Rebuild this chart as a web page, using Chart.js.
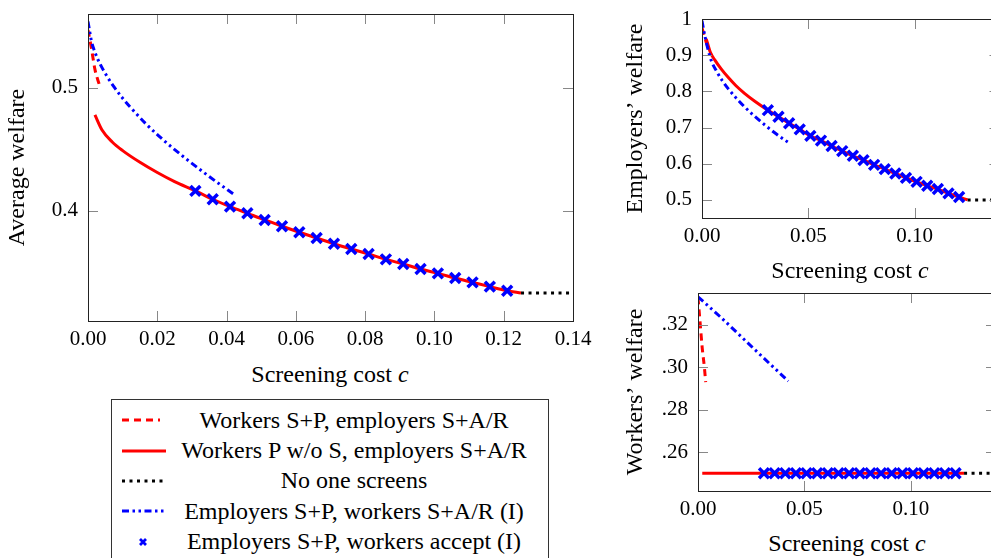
<!DOCTYPE html>
<html>
<head>
<meta charset="utf-8">
<script src="https://cdn.jsdelivr.net/npm/chart.js@4.4.1/dist/chart.umd.min.js"></script>
<style>
  body { margin: 0; background: #fff; }
  #page { position: relative; width: 991px; height: 558px; overflow: hidden; font-family: "Liberation Serif", serif; color: #000; }
  canvas { position: absolute; }
  .xtitle { position: absolute; font-size: 24px; line-height: 28px; text-align: center; white-space: nowrap; }
  #legend { position: absolute; left: 111px; top: 399px; width: 438px; height: 170px; border: 1px solid #333; padding-top: 5px; box-sizing: border-box; }
  .row { display: flex; align-items: center; height: 30.4px; }
  .row svg { margin-left: 8px; width: 48px; height: 14px; flex: none; }
  .row span { width: 372px; text-align: center; font-size: 24px; white-space: nowrap; }
</style>
</head>
<body>
<div id="page">
  <canvas id="avgChart" width="600" height="360" style="left:0;top:0"></canvas>
  <canvas id="empChart" width="400" height="250" style="left:610px;top:0"></canvas>
  <canvas id="wrkChart" width="400" height="240" style="left:610px;top:280px"></canvas>
  <div class="xtitle" style="left:180px;width:300px;top:360px">Screening cost <i>c</i></div>
  <div class="xtitle" style="left:700px;width:300px;top:256px">Screening cost <i>c</i></div>
  <div class="xtitle" style="left:697px;width:300px;top:529px">Screening cost <i>c</i></div>
  <div id="legend"></div>
</div>
<script>
// series names (legend order)
var names = [
  "Workers S+P, employers S+A/R",
  "Workers P w/o S, employers S+A/R",
  "No one screens",
  "Employers S+P, workers S+A/R (I)",
  "Employers S+P, workers accept (I)"
];

// red dashed: workers S+P, employers S+A/R
var cRedDash = [0, 0.001, 0.002, 0.003, 0.0036];
var avgRedDash = [0.547, 0.532, 0.515, 0.505, 0.500];
var empRedDash = [0.975, 0.955, 0.935, 0.92, 0.912];
var wrkRedDash = [0.333, 0.321, 0.309, 0.300, 0.293];

// red solid, first part (before the crosses start)
var cRedAvgHead = [0.002, 0.004, 0.007, 0.01, 0.015, 0.02, 0.025];
var avgRedHead = [0.478, 0.466, 0.456, 0.449, 0.4395, 0.4312, 0.4238];
var cRedEmpHead = [0.002, 0.004, 0.006, 0.009, 0.0124, 0.016, 0.02, 0.025];
var empRedHead = [0.945, 0.907, 0.887, 0.862, 0.838, 0.8155, 0.7945, 0.772];
var cRedEnd = 0.125;
var avgRedEnd = 0.3333;
var empRedEnd = 0.5;
var cRedWrk = [0.002, 0.125];
var wrkRed = [0.25, 0.25];

// crosses: employers S+P, workers accept
var cCross = [0.031, 0.036, 0.041, 0.046, 0.051, 0.056, 0.061, 0.066, 0.071, 0.076,
              0.081, 0.086, 0.091, 0.096, 0.101, 0.106, 0.111, 0.116, 0.121];
var avgCross = [0.4163, 0.4095, 0.4035, 0.3981, 0.3927, 0.3876, 0.3827, 0.3780, 0.3734, 0.3691,
                0.3650, 0.3607, 0.3569, 0.3528, 0.3493, 0.3455, 0.3420, 0.3385, 0.3352];
var empCross = [0.748, 0.730, 0.712, 0.695, 0.677, 0.664, 0.649, 0.635, 0.622, 0.610,
                0.597, 0.585, 0.573, 0.561, 0.550, 0.539, 0.530, 0.518, 0.508];
var wrkCross = [0.25, 0.25, 0.25, 0.25, 0.25, 0.25, 0.25, 0.25, 0.25, 0.25,
                0.25, 0.25, 0.25, 0.25, 0.25, 0.25, 0.25, 0.25, 0.25];

// black dotted: no one screens
var cNone = [0.125, 0.14];
var avgNone = [0.3333, 0.3333];
var empNone = [0.5, 0.5];
var wrkNone = [0.25, 0.25];

// blue dash-dot: employers S+P, workers S+A/R
var cBlueAvg = [0, 0.001, 0.002, 0.0035, 0.0055, 0.0073, 0.01, 0.0121, 0.0169, 0.022, 0.0266, 0.0323, 0.037, 0.0419];
var avgBlue = [0.554, 0.538, 0.529, 0.5193, 0.5093, 0.5016, 0.4916, 0.4847, 0.4703, 0.457, 0.4462, 0.4337, 0.4238, 0.414];
var cBlueEmp = [0, 0.0007, 0.0014, 0.003, 0.0045, 0.0069, 0.0095, 0.0124, 0.016, 0.0202, 0.025, 0.0296, 0.035, 0.0413];
var empBlue = [0.995, 0.972, 0.952, 0.912, 0.883, 0.855, 0.83, 0.807, 0.782, 0.756, 0.73, 0.707, 0.682, 0.656];
var cBlueWrk = [0, 0.0103, 0.026, 0.0424];
var wrkBlue = [0.3333, 0.324, 0.309, 0.2935];

// tick labels
var mainXTicks = [0, 0.02, 0.04, 0.06, 0.08, 0.10, 0.12, 0.14];
var mainYTicks = [0.4, 0.5];
var sideXTicks = [0, 0.05, 0.10];
var empYTicks = [0.5, 0.6, 0.7, 0.8, 0.9, 1];
var wrkYTicks = [0.26, 0.28, 0.30, 0.32];

function pts(xs, ys) {
  return xs.map(function (x, i) { return { x: x, y: ys[i] }; });
}

var RED = "#ff0000", BLUE = "#0000ff";

function datasets(cross, blue, none, red, redDash) {
  // first dataset is drawn on top
  return [
    { label: names[4], data: cross, showLine: false, pointStyle: "crossRot", pointRadius: 7,
      pointBorderWidth: 3.5, borderColor: BLUE, backgroundColor: BLUE },
    { label: names[3], data: blue, borderColor: BLUE, borderWidth: 3, borderDash: [7, 3.5, 2.5, 3.5, 2.5, 3.5],
      pointRadius: 0, cubicInterpolationMode: "monotone" },
    { label: names[2], data: none, borderColor: "#000", borderWidth: 3, borderDash: [3, 4.5], pointRadius: 0 },
    { label: names[1], data: red, borderColor: RED, borderWidth: 3, pointRadius: 0, cubicInterpolationMode: "monotone" },
    { label: names[0], data: redDash, borderColor: RED, borderWidth: 3, borderDash: [7, 5], pointRadius: 0,
      cubicInterpolationMode: "monotone" }
  ];
}

// frame with inward ticks on all four sides
var framePlugin = {
  id: "frame",
  afterDatasetsDraw: function (chart) {
    var ctx = chart.ctx, a = chart.chartArea, x = chart.scales.x, y = chart.scales.y;
    ctx.save();
    ctx.strokeStyle = "#888";
    ctx.lineWidth = 1;
    ctx.beginPath();
    x.ticks.forEach(function (t) {
      var px = Math.round(x.getPixelForValue(t.value)) + 0.5;
      ctx.moveTo(px, a.bottom); ctx.lineTo(px, a.bottom - 10);
      ctx.moveTo(px, a.top); ctx.lineTo(px, a.top + 10);
    });
    y.ticks.forEach(function (t) {
      var py = Math.round(y.getPixelForValue(t.value)) + 0.5;
      ctx.moveTo(a.left, py); ctx.lineTo(a.left + 10, py);
      ctx.moveTo(a.right, py); ctx.lineTo(a.right - 10, py);
    });
    ctx.stroke();
    ctx.strokeStyle = "#222";
    ctx.strokeRect(Math.round(a.left) + 0.5, Math.round(a.top) + 0.5, Math.round(a.width), Math.round(a.height));
    ctx.restore();
  }
};

var tickFont = { family: "Liberation Serif", size: 21 };
var titleFont = { family: "Liberation Serif", size: 24 };

function makeChart(id, sets, o) {
  return new Chart(document.getElementById(id), {
    type: "line",
    data: { datasets: sets },
    plugins: [framePlugin],
    options: {
      responsive: false,
      animation: false,
      devicePixelRatio: 1,
      layout: { padding: { left: 0, top: o.top, right: o.right, bottom: 0 } },
      plugins: { legend: { display: false }, tooltip: { enabled: false } },
      scales: {
        x: {
          type: "linear", min: 0, max: 0.14,
          grid: { display: false, drawTicks: false }, border: { display: false },
          afterBuildTicks: function (s) { s.ticks = o.xTicks.map(function (v) { return { value: v }; }); },
          afterFit: function (s) { s.height = o.xHeight; s.paddingLeft = 0; s.paddingRight = 0; },
          ticks: { font: tickFont, color: "#000", padding: 6, maxRotation: 0,
                   callback: function (v) { return v.toFixed(2); } }
        },
        y: {
          type: "linear", min: o.yMin, max: o.yMax,
          grid: { display: false, drawTicks: false }, border: { display: false },
          afterBuildTicks: function (s) { s.ticks = o.yTicks.map(function (v) { return { value: v }; }); },
          afterFit: function (s) { s.width = o.yWidth; s.paddingTop = 0; s.paddingBottom = 0; },
          ticks: { font: tickFont, color: "#000", padding: 10, callback: o.yFormat },
          title: { display: true, text: o.yTitle, font: titleFont, color: "#000", padding: { top: o.titlePad, bottom: 0 } }
        }
      }
    }
  });
}

makeChart("avgChart",
  datasets(pts(cCross, avgCross), pts(cBlueAvg, avgBlue), pts(cNone, avgNone),
           pts(cRedAvgHead.concat(cCross, [cRedEnd]), avgRedHead.concat(avgCross, [avgRedEnd])),
           pts(cRedDash, avgRedDash)),
  { top: 14, right: 27, xHeight: 39, yWidth: 88, yMin: 0.3106, yMax: 0.560,
    xTicks: mainXTicks, yTicks: mainYTicks, yTitle: "Average welfare", titlePad: 3,
    yFormat: function (v) { return v.toFixed(1); } });

makeChart("empChart",
  datasets(pts(cCross, empCross), pts(cBlueEmp, empBlue), pts(cNone, empNone),
           pts(cRedEmpHead.concat(cCross, [cRedEnd]), empRedHead.concat(empCross, [empRedEnd])),
           pts(cRedDash, empRedDash)),
  { top: 19, right: 10, xHeight: 32, yWidth: 92, yMin: 0.45, yMax: 1.0,
    xTicks: sideXTicks, yTicks: empYTicks, yTitle: "Employers\u2019 welfare", titlePad: 11,
    yFormat: function (v) { return v === 1 ? "1" : v.toFixed(1); } });

makeChart("wrkChart",
  datasets(pts(cCross, wrkCross), pts(cBlueWrk, wrkBlue), pts(cNone, wrkNone),
           pts(cRedWrk, wrkRed), pts(cRedDash, wrkRedDash)),
  { top: 13, right: 14, xHeight: 29, yWidth: 88, yMin: 0.2416, yMax: 0.3351,
    xTicks: sideXTicks, yTicks: wrkYTicks, yTitle: "Workers\u2019 welfare", titlePad: 11,
    yFormat: function (v) { return v.toFixed(2).slice(1); } });

// legend built from the series names
var samples = [
  '<line x1="2" y1="7" x2="40" y2="7" stroke="#f00" stroke-width="3" stroke-dasharray="7 5"/>',
  '<line x1="2" y1="7" x2="46" y2="7" stroke="#f00" stroke-width="3"/>',
  '<line x1="2" y1="7" x2="47" y2="7" stroke="#000" stroke-width="3" stroke-dasharray="3 4.5"/>',
  '<line x1="2" y1="7" x2="47" y2="7" stroke="#00f" stroke-width="3" stroke-dasharray="7 3.5 2.5 3.5 2.5 3.5"/>',
  '<path d="M20 4 L26 10 M26 4 L20 10" stroke="#00f" stroke-width="2.8"/>'
];
var legend = document.getElementById("legend");
names.forEach(function (n, i) {
  var row = document.createElement("div");
  row.className = "row";
  row.innerHTML = '<svg viewBox="0 0 48 14">' + samples[i] + '</svg><span>' + n + '</span>';
  legend.appendChild(row);
});
</script>
</body>
</html>
